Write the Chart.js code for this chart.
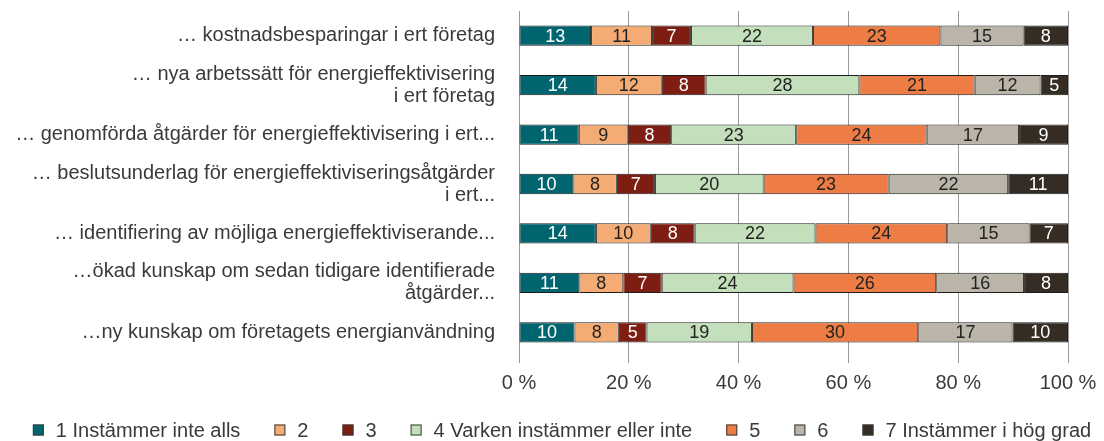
<!DOCTYPE html>
<html>
<head>
<meta charset="utf-8">
<script src="https://cdn.jsdelivr.net/npm/chart.js@4/dist/chart.umd.min.js"></script>
<style>
html,body{margin:0;padding:0;background:#fff;}
#wrap{width:1104px;height:441px;}
</style>
</head>
<body>
<div id="wrap"><canvas id="c" width="1104" height="441"></canvas></div>
<script>
const categories = [
  "… kostnadsbesparingar i ert företag",
  ["… nya arbetssätt för energieffektivisering", "i ert företag"],
  "… genomförda åtgärder för energieffektivisering i ert...",
  ["… beslutsunderlag för energieffektiviseringsåtgärder", "i ert..."],
  "… identifiering av möjliga energieffektiviserande...",
  ["…ökad kunskap om sedan tidigare identifierade", "åtgärder..."],
  "…ny kunskap om företagets energianvändning"
];
const seriesNames = ["1 Instämmer inte alls","2","3","4 Varken instämmer eller inte","5","6","7 Instämmer i hög grad"];
const s1 = [13,14,11,10,14,11,10];
const s2 = [11,12,9,8,10,8,8];
const s3 = [7,8,8,7,8,7,5];
const s4 = [22,28,23,20,22,24,19];
const s5 = [23,21,24,23,24,26,30];
const s6 = [15,12,17,22,15,16,17];
const s7 = [8,5,9,11,7,8,10];
const tickLabels = ["0 %","20 %","40 %","60 %","80 %","100 %"];

const colors = ["#00656F","#F5AC74","#7E1E12","#C4DFBC","#EE7D45","#BBB4A8","#352C24"];
const labelColors = ["#ffffff","#222222","#ffffff","#222222","#222222","#222222","#ffffff"];
const raw = [s1,s2,s3,s4,s5,s6,s7];
const totals = categories.map((_,i)=>raw.reduce((a,s)=>a+s[i],0));

const FONT = "'Liberation Sans', Arial, Helvetica, sans-serif";
const TEXT = '#3a3a3a';

const valueLabels = {
  id:'valueLabels',
  afterDatasetsDraw(chart){
    const ctx = chart.ctx;
    ctx.save();
    ctx.font = "18px " + FONT;
    ctx.textAlign = 'center';
    ctx.textBaseline = 'middle';
    chart.data.datasets.forEach((ds,di)=>{
      const meta = chart.getDatasetMeta(di);
      meta.data.forEach((el,i)=>{
        const x = (el.x + el.base)/2;
        ctx.fillStyle = labelColors[di];
        ctx.fillText(String(raw[di][i]), x, el.y+1);
      });
    });
    ctx.restore();
  }
};

const bottomLegend = {
  id:'bottomLegend',
  afterDraw(chart){
    const ctx = chart.ctx;
    ctx.save();
    ctx.font = "20px " + FONT;
    ctx.textBaseline = 'middle';
    ctx.textAlign = 'left';
    const box = 11, boxGap = 12, itemGap = 34, cy = 430;
    const items = chart.data.datasets.map(ds=>({text:ds.label, color:ds.backgroundColor, w: box + boxGap + ctx.measureText(ds.label).width}));
    const total = items.reduce((a,it)=>a+it.w,0) + itemGap*(items.length-1);
    let x = 562 - total/2;
    items.forEach(it=>{
      ctx.fillStyle = it.color;
      ctx.fillRect(x, cy-box/2, box, box);
      ctx.strokeStyle = '#3a3a3a';
      ctx.lineWidth = 1;
      ctx.strokeRect(x+0.5, cy-box/2+0.5, box-1, box-1);
      ctx.fillStyle = TEXT;
      ctx.fillText(it.text, x + box + boxGap, cy+1);
      x += it.w + itemGap;
    });
    ctx.restore();
  }
};

new Chart(document.getElementById('c'), {
  type:'bar',
  data:{
    labels: categories,
    datasets: raw.map((s,di)=>({
      label: seriesNames[di],
      data: s.map((v,i)=>v/totals[i]*100),
      backgroundColor: colors[di],
      borderColor: '#1e1e1e',
      borderWidth: 1,
      borderSkipped: false,
      categoryPercentage: 0.41,
      barPercentage: 1
    }))
  },
  options:{
    indexAxis:'y',
    responsive:false,
    animation:false,
    devicePixelRatio:1,
    layout:{padding:{top:11,left:0,right:36,bottom:46}},
    plugins:{
      legend:{display:false},
      tooltip:{enabled:false}
    },
    scales:{
      x:{
        stacked:true, min:0, max:100,
        ticks:{stepSize:20, color:TEXT, font:{family:FONT,size:20}, padding:8,
          callback:(v,i)=>tickLabels[i]},
        grid:{color:'#9a9a9a', lineWidth:1, drawTicks:true, tickLength:6},
        border:{display:false},
        afterFit(scale){ scale.height = 38; scale.paddingLeft = 0; scale.paddingRight = 0; scale.paddingTop = 0; scale.paddingBottom = 0; }
      },
      y:{
        stacked:true,
        ticks:{color:TEXT, font:{family:FONT,size:20,lineHeight:1.1}, padding:16, autoSkip:false},
        grid:{display:false},
        border:{display:false},
        afterFit(scale){ scale.width = 519; scale.paddingTop = 0; scale.paddingBottom = 0; scale.paddingLeft = 0; scale.paddingRight = 0; }
      }
    }
  },
  plugins:[valueLabels, bottomLegend]
});
</script>
</body>
</html>
